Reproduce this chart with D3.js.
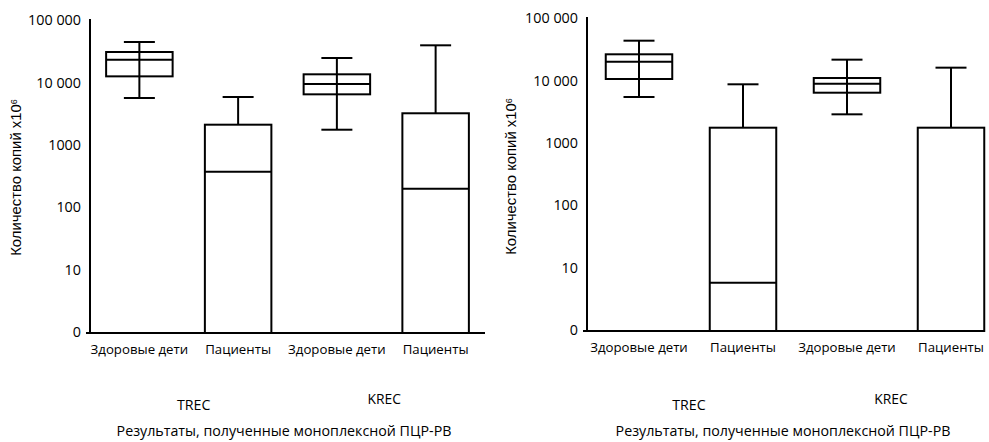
<!DOCTYPE html>
<html>
<head>
  <meta charset="utf-8">
  <title>TREC / KREC</title>
  <script src="https://d3js.org/d3.v7.min.js"></script>
  <style>
    body { margin: 0; background: #fff; }
    text { font-family: "Open Sans", sans-serif; font-size: 14px; fill: #000; }
    .box { fill: #fff; stroke: #000; stroke-width: 2px; }
    .line { stroke: #000; stroke-width: 2px; }
    .axis path { stroke: #000; stroke-width: 2px; }
    .ytitle { font-family: "Liberation Sans", Arial, sans-serif; }
  </style>
</head>
<body>
<div id="chart"></div>
<script>
  // Categories and labels.
  const categories = ["Здоровые дети", "Пациенты", "Здоровые дети", "Пациенты"];
  const groups = ["TREC", "KREC"];
  const yTicks = [1, 10, 100, 1000, 10000, 100000];
  const yTickLabels = ["0", "10", "100", "1000", "10 000", "100 000"];
  const yTitle = "Количество копий х10";
  const xTitle = "Результаты, полученные моноплексной ПЦР-РВ";

  // Left panel: box statistics (0 = at the zero line, null = no whisker).
  const leftHigh   = [44400, 5840, 24600, 39300];
  const leftQ3     = [30700, 2100, 13480, 3200];
  const leftMedian = [23100, 371, 9430, 198];
  const leftQ1     = [12500, 0, 6440, 0];
  const leftLow    = [5620, null, 1745, null];

  // Right panel.
  const rightHigh   = [43300, 8660, 21500, 16000];
  const rightQ3     = [26200, 1746, 10920, 1746];
  const rightMedian = [19950, 5.7, 8850, 0];
  const rightQ1     = [10530, 0, 6350, 0];
  const rightLow    = [5420, null, 2860, null];

  const W = 989, H = 442;
  const svg = d3.select("#chart").append("svg")
    .attr("width", W)
    .attr("height", H);

  // scale font size so a text gets the width measured on the picture
  function fitSize(sel, target) {
    const w = sel.node().getComputedTextLength();
    const fs = parseFloat(getComputedStyle(sel.node()).fontSize);
    return fs * target / w;
  }

  function drawPanel(p) {
    const g = svg.append("g");
    const y = d3.scaleLog().domain([1, 100000]).range(p.yRange);
    const yv = v => y(Math.max(v, 1));
    const x = d3.scaleBand().domain(d3.range(categories.length)).range(p.xRange);
    const cx = i => x(i) + x.bandwidth() / 2;
    const boxW = 66.5, capW = 31;
    const base = p.yRange[0] + 1;

    // y axis, labels only
    const yAxis = d3.axisLeft(y)
      .tickValues(yTicks)
      .tickFormat((d, i) => yTickLabels[i])
      .tickSize(0)
      .tickPadding(9);
    const ya = g.append("g").attr("class", "axis")
      .attr("transform", "translate(" + p.xRange[0] + ",0)")
      .call(yAxis)
      .call(a => a.select(".domain").attr("d", "M0," + (p.yRange[1] - 1) + "V" + base));
    const yTickText = ya.selectAll(".tick text");
    const yfs = fitSize(yTickText.filter((d, i) => i === yTicks.length - 1), 53);
    yTickText.style("font-size", yfs + "px");

    // x axis
    const xAxis = d3.axisBottom(x)
      .tickFormat(i => categories[i])
      .tickSize(0)
      .tickPadding(12);
    const xa = g.append("g").attr("class", "axis")
      .attr("transform", "translate(0," + base + ")")
      .call(xAxis)
      .call(a => a.select(".domain").attr("d", "M" + (p.xRange[0] - 4) + ",0H" + p.axisEnd));
    const xTickText = xa.selectAll(".tick text");
    const xfs = fitSize(xTickText.filter((d, i) => i === 0), 97.7);
    xTickText.style("font-size", xfs + "px");

    const idx = d3.range(categories.length);

    // whiskers
    g.selectAll(".wh").data(idx).enter().append("line")
      .attr("class", "line")
      .attr("x1", cx).attr("x2", cx)
      .attr("y1", i => yv(p.high[i]))
      .attr("y2", i => p.low[i] == null ? yv(p.q3[i]) : yv(p.low[i]));
    g.selectAll(".capH").data(idx).enter().append("line")
      .attr("class", "line")
      .attr("x1", i => cx(i) - capW / 2).attr("x2", i => cx(i) + capW / 2)
      .attr("y1", i => yv(p.high[i])).attr("y2", i => yv(p.high[i]));
    g.selectAll(".capL").data(idx.filter(i => p.low[i] != null)).enter().append("line")
      .attr("class", "line")
      .attr("x1", i => cx(i) - capW / 2).attr("x2", i => cx(i) + capW / 2)
      .attr("y1", i => yv(p.low[i])).attr("y2", i => yv(p.low[i]));

    // boxes
    g.selectAll(".box").data(idx).enter().append("rect")
      .attr("class", "box")
      .attr("x", i => cx(i) - boxW / 2)
      .attr("width", boxW)
      .attr("y", i => yv(p.q3[i]))
      .attr("height", i => (p.q1[i] <= 0 ? base : yv(p.q1[i])) - yv(p.q3[i]));
    // whisker continues through healthy boxes
    g.selectAll(".inner").data(idx.filter(i => p.low[i] != null)).enter().append("line")
      .attr("class", "line")
      .attr("x1", cx).attr("x2", cx)
      .attr("y1", i => yv(p.q3[i])).attr("y2", i => yv(p.q1[i]));
    g.selectAll(".med").data(idx).enter().append("line")
      .attr("class", "line")
      .attr("x1", i => cx(i) - boxW / 2).attr("x2", i => cx(i) + boxW / 2)
      .attr("y1", i => p.median[i] <= 0 ? base : yv(p.median[i]))
      .attr("y2", i => p.median[i] <= 0 ? base : yv(p.median[i]));

    // bottom baseline redrawn over the boxes
    g.append("line").attr("class", "line")
      .attr("x1", p.xRange[0] - 4).attr("x2", p.axisEnd)
      .attr("y1", base).attr("y2", base);

    // y title
    const t = g.append("text")
      .attr("class", "ytitle")
      .attr("transform", "translate(" + p.yTitleX + "," + p.yTitleY + ") rotate(-90)")
      .attr("dy", "0.35em")
      .attr("text-anchor", "middle");
    t.append("tspan").text(yTitle);
    t.append("tspan").attr("dy", "-0.45em").style("font-size", "9px").text("6");
    t.style("font-size", fitSize(t, 157) + "px");

    // group labels
    groups.forEach((name, k) => {
      const gl = g.append("text")
        .attr("x", (cx(2 * k) + cx(2 * k + 1)) / 2 + p.groupDx[k])
        .attr("y", p.groupY[k])
        .attr("dy", "0.35em")
        .attr("text-anchor", "middle")
        .text(name);
      gl.style("font-size", fitSize(gl, 33.5) + "px");
    });

    const tt = g.append("text")
      .attr("x", p.xRange[0] + p.titleDx)
      .attr("y", 431)
      .attr("dy", "0.35em")
      .attr("text-anchor", "middle")
      .text(xTitle);
    tt.style("font-size", fitSize(tt, 335) + "px");
  }

  drawPanel({
    high: leftHigh, q3: leftQ3, median: leftMedian, q1: leftQ1, low: leftLow,
    yRange: [332, 20], xRange: [90, 485], axisEnd: 485,
    yTitleX: 16, yTitleY: 177.5, groupDx: [5, -2], groupY: [405, 399], titleDx: 194
  });
  drawPanel({
    high: rightHigh, q3: rightQ3, median: rightMedian, q1: rightQ1, low: rightLow,
    yRange: [330, 18], xRange: [587, 1003], axisEnd: 984,
    yTitleX: 511, yTitleY: 176.5, groupDx: [-2, -8], groupY: [405, 399], titleDx: 196
  });
</script>
</body>
</html>
